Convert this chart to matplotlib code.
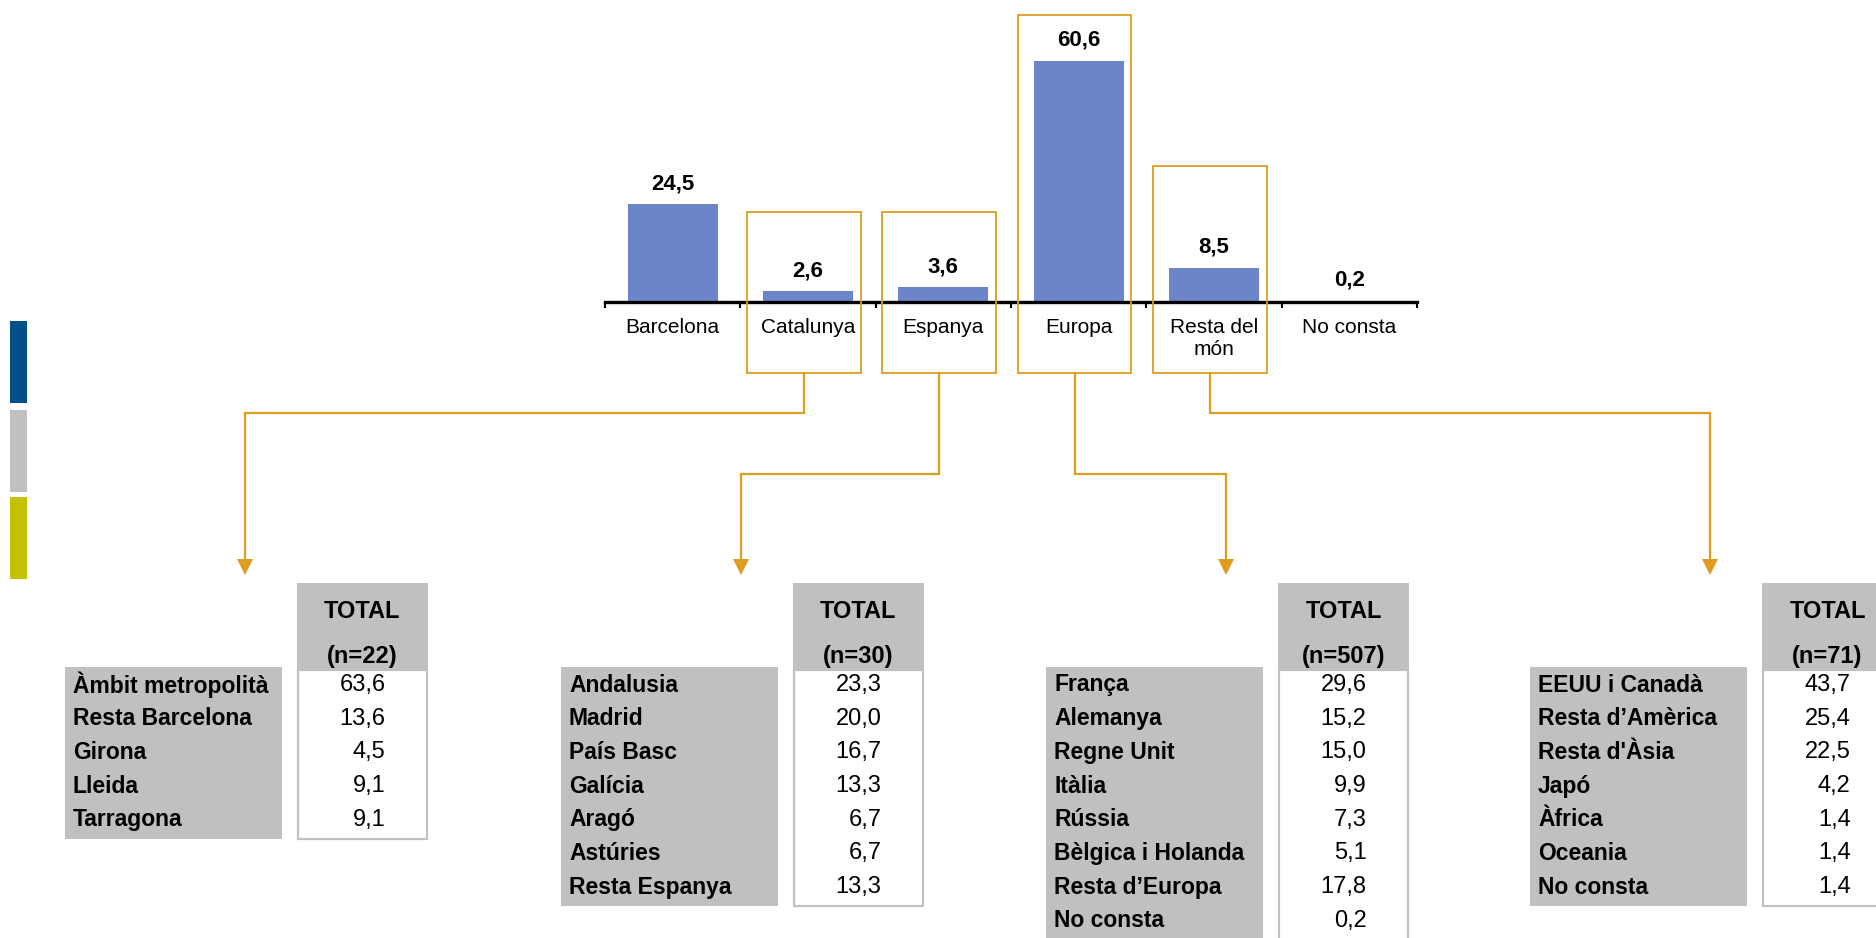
import numpy as np
import matplotlib
matplotlib.use('Agg')
import matplotlib.pyplot as plt
from matplotlib.patches import Rectangle

plt.rcParams['font.family'] = ['Liberation Sans', 'DejaVu Sans']

# main distribution (%)
categories = ['Barcelona', 'Catalunya', 'Espanya', 'Europa', 'Resta del\nmón', 'No consta']
values = [24.5, 2.6, 3.6, 60.6, 8.5, 0.2]

# detail tables
cat_labels = ['Àmbit metropolità', 'Resta Barcelona', 'Girona', 'Lleida', 'Tarragona']
cat_values = [63.6, 13.6, 4.5, 9.1, 9.1]
cat_n = 22
esp_labels = ['Andalusia', 'Madrid', 'País Basc', 'Galícia', 'Aragó', 'Astúries', 'Resta Espanya']
esp_values = [23.3, 20.0, 16.7, 13.3, 6.7, 6.7, 13.3]
esp_n = 30
eur_labels = ['França', 'Alemanya', 'Regne Unit', 'Itàlia', 'Rússia', 'Bèlgica i Holanda',
              'Resta d\u2019Europa', 'No consta']
eur_values = [29.6, 15.2, 15.0, 9.9, 7.3, 5.1, 17.8, 0.2]
eur_n = 507
mon_labels = ['EEUU i Canadà', 'Resta d\u2019Amèrica', "Resta d'Àsia", 'Japó', 'Àfrica', 'Oceania', 'No consta']
mon_values = [43.7, 25.4, 22.5, 4.2, 1.4, 1.4, 1.4]
mon_n = 71

def fmt(v):
    return '{:.1f}'.format(v).replace('.', ',')

# colours
bar_col = '#6A86C8'
orange = '#DF9C1F'
grey = '#C0C0C0'

W, H = 1876, 938
fig = plt.figure(figsize=(W/100., H/100.), dpi=100)

# overlay in pixel coords (y down)
ov = fig.add_axes([0, 0, 1, 1])
ov.set_xlim(0, W)
ov.set_ylim(H, 0)
ov.axis('off')

# bar chart
ax_l, ax_r, ax_y0, ppu = 605, 1417, 301.7, 3.97
ymax = 70
ax = fig.add_axes([ax_l/W, 1 - ax_y0/H, (ax_r-ax_l)/W, ymax*ppu/H])
ax.patch.set_visible(False)
x = np.arange(len(categories)) + 0.5
ax.bar(x, values, width=0.667, color=bar_col, zorder=2)
ax.set_xlim(0, len(categories))
ax.set_ylim(0, ymax)
for s in ['top', 'right', 'left']:
    ax.spines[s].set_visible(False)
ax.spines['bottom'].set_linewidth(2.4)
ax.set_yticks([])
ax.set_xticks(np.arange(len(categories)+1), minor=True)
ax.tick_params(axis='x', which='minor', length=4, width=1.5, direction='out')
ax.set_xticks(x)
ax.set_xticklabels(categories, fontsize=15, linespacing=1.15)
ax.tick_params(axis='x', which='major', length=0, pad=12)
for xi, v in zip(x, values):
    ax.annotate(fmt(v), (xi, v), xytext=(0, 11), textcoords='offset points',
                ha='center', va='baseline', fontsize=16, fontweight='bold')

# orange boxes around the detailed categories
linked = [1, 2, 3, 4]
box_tops = [22.6, 22.6, 72.2, 34.2]
box_bottom = -18
for i, top in zip(linked, box_tops):
    ax.add_patch(Rectangle((i + 0.5 - 0.45, box_bottom), 0.84, top - box_bottom,
                           fill=False, edgecolor=orange, lw=1.3, clip_on=False, zorder=3))

# tables
tables = [(cat_labels, cat_values, cat_n), (esp_labels, esp_values, esp_n),
          (eur_labels, eur_values, eur_n), (mon_labels, mon_values, mon_n)]
tab_x0 = [65, 561, 1046, 1530]
lab_w, gap, col_w = 217, 15, 131
head_top, head_bot = 583, 670
row0, row_h = 685, 33.7
elbow_y = [413, 474, 474, 413]
tip_y = 575

fig.canvas.draw()
for k, ((labs, vals, n), x0) in enumerate(zip(tables, tab_x0)):
    nrows = len(labs)
    last = row0 + (nrows - 1)*row_h
    cx = x0 + lab_w + gap
    # label block
    ov.add_patch(Rectangle((x0, head_bot - 3), lab_w, last + 19 - (head_bot - 3),
                           facecolor=grey, edgecolor='none'))
    # header
    ov.add_patch(Rectangle((cx, head_top), col_w, head_bot - head_top,
                           facecolor=grey, edgecolor='none'))
    ov.text(cx + col_w/2, 611, 'TOTAL', ha='center', va='center', fontsize=17, fontweight='bold')
    ov.text(cx + col_w/2, 656, '(n={})'.format(n), ha='center', va='center',
            fontsize=17, fontweight='bold')
    # values block
    ov.add_patch(Rectangle((cx + 1, head_bot), col_w - 2, last + 19 - head_bot,
                           facecolor='white', edgecolor=grey, lw=1.6))
    for r, (lab, v) in enumerate(zip(labs, vals)):
        y = row0 + r*row_h
        ov.text(x0 + 8, y, lab, ha='left', va='center', fontsize=16.5, fontweight='bold')
        ov.text(cx + col_w/2 + 23, y, fmt(v), ha='right', va='center', fontsize=17)

    # connector from the orange box to the table
    i = linked[k]
    px, py = ax.transData.transform((i + 0.5 - 0.03, box_bottom))
    sx, sy = px, H - py
    ax_x = x0 + 180
    ov.plot([sx, sx, ax_x, ax_x], [sy, elbow_y[k], elbow_y[k], tip_y - 12],
            color=orange, lw=1.6, solid_joinstyle='miter')
    ov.plot([ax_x], [tip_y - 8], marker='v', markersize=11.5, color=orange,
            markeredgewidth=0)

# side colour strips
for y0, y1, c in [(321, 403, '#034F88'), (410, 492, grey), (497, 579, '#C5C000')]:
    ov.add_patch(Rectangle((10, y0), 17, y1 - y0, facecolor=c, edgecolor='none'))

fig.savefig('out.png', dpi=100)
